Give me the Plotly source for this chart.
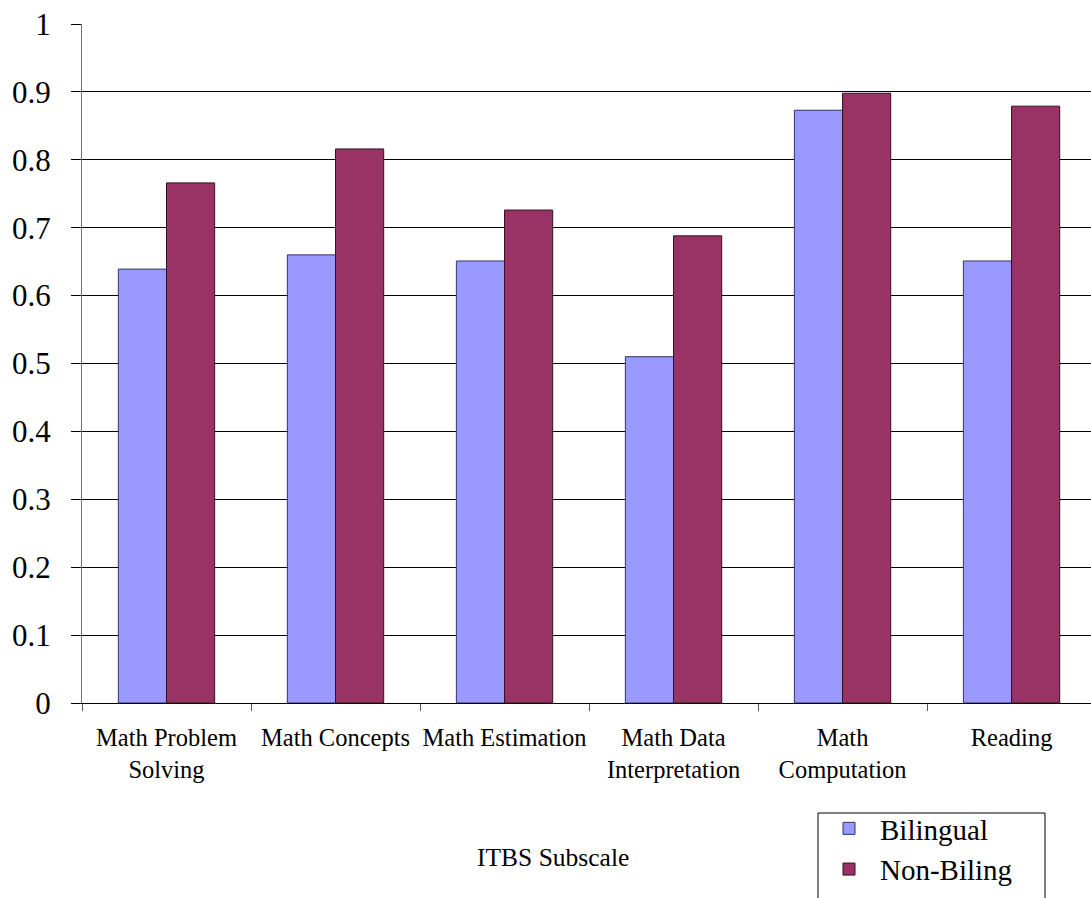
import plotly.graph_objects as go

categories = [
    "Math Problem<br>Solving",
    "Math Concepts",
    "Math Estimation",
    "Math Data<br>Interpretation",
    "Math<br>Computation",
    "Reading",
]
bilingual = [0.639, 0.660, 0.651, 0.510, 0.873, 0.651]
non_biling = [0.766, 0.816, 0.726, 0.688, 0.898, 0.879]

FONT = "Liberation Serif, Times New Roman, serif"

# pixel helpers for the paper-space placement of the legend frame
PLOT_L, PLOT_W, PLOT_B, PLOT_H = 82, 1009, 703, 679


def px_x(px):
    return (px - PLOT_L) / PLOT_W


def px_y(px):
    return (PLOT_B - px) / PLOT_H


fig = go.Figure()
fig.add_trace(go.Bar(
    x=categories, y=bilingual, name="Bilingual",
    marker=dict(color="#9999FF", line=dict(color="#333366", width=1)),
))
fig.add_trace(go.Bar(
    x=categories, y=non_biling, name="Non-Biling",
    marker=dict(color="#993366", line=dict(color="#331122", width=1)),
))

fig.update_layout(
    width=1091, height=898,
    margin=dict(l=82, r=0, t=24, b=195, autoexpand=False),
    plot_bgcolor="white", paper_bgcolor="white",
    barmode="group", bargap=0.43, bargroupgap=0,
    font=dict(family=FONT, color="black"),
    showlegend=True,
    legend=dict(
        x=px_x(818), y=px_y(803), xanchor="left", yanchor="top",
        font=dict(family=FONT, size=29, color="black"),
        borderwidth=0, bgcolor="rgba(0,0,0,0)",
        tracegroupgap=0, itemwidth=52,
    ),
    shapes=[dict(
        type="rect", xref="paper", yref="paper",
        x0=px_x(818), x1=px_x(1045), y0=px_y(813), y1=px_y(910),
        line=dict(color="black", width=1), fillcolor="rgba(0,0,0,0)",
        layer="below",
    )],
    xaxis=dict(
        range=[-0.5, 5.47],
        showline=True, linecolor="black", linewidth=1,
        ticks="outside", tickson="boundaries", ticklen=7, tickcolor="#555555",
        tickangle=0, automargin=False,
        tickfont=dict(family=FONT, size=24.5, color="black"),
        ticklabelstandoff=13,
        showgrid=False, zeroline=False,
    ),
    yaxis=dict(
        range=[0, 1], dtick=0.1, tick0=0,
        showline=True, linecolor="#777777", linewidth=1,
        ticks="outside", ticklen=10, tickcolor="black",
        tickfont=dict(family=FONT, size=31, color="black"),
        ticklabelstandoff=14,
        showgrid=True, gridcolor="black", gridwidth=1,
        zeroline=False,
    ),
    annotations=[dict(
        text="ITBS Subscale", xref="paper", yref="paper",
        x=px_x(553), y=px_y(857),
        xanchor="center", yanchor="middle", showarrow=False,
        font=dict(family=FONT, size=25.5, color="black"),
    )],
)

fig.write_html("out.html")
